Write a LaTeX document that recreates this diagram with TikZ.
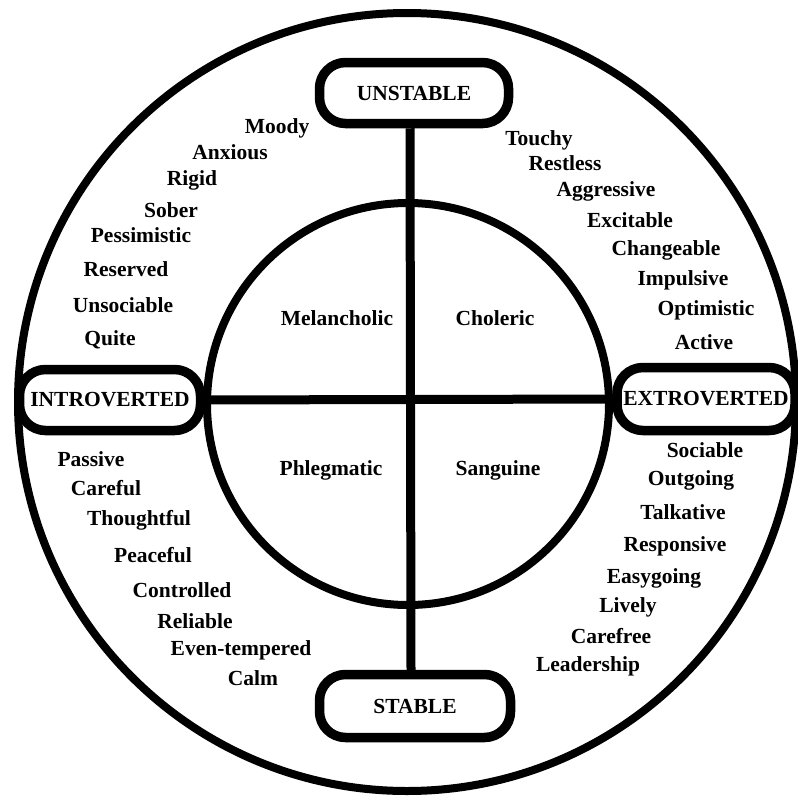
\documentclass[tikz,border=0pt]{standalone}
\usepackage{fontspec}
\setmainfont{Liberation Serif}
\begin{document}
\begin{tikzpicture}[x=1pt,y=-1pt,
  ring/.style={line width=8pt},
  axis/.style={line width=9pt},
  pole/.style={draw, fill=white, line width=9.5pt, rounded corners=26pt, font=\fontsize{21.5}{23}\selectfont\bfseries, inner sep=0pt},
  trait/.style={font=\fontsize{21.5}{23}\selectfont\bfseries, inner sep=0pt},
  temper/.style={font=\fontsize{21.5}{23}\selectfont\bfseries, inner sep=0pt}]
\useasboundingbox (0,0) rectangle (798,798);
\fill[white] (0,0) rectangle (798,798);
% circles
\draw[ring] (407,402) circle (389);
\draw[ring] (408,404) circle (201);
% pole boxes
\node[pole, minimum width=189pt, minimum height=61pt] (unstable) at (414,93) {UNSTABLE};
\node[pole, minimum width=191pt, minimum height=63pt] (stable) at (415,706) {STABLE};
\node[pole, minimum width=181pt, minimum height=61pt] (introverted) at (110,400) {INTROVERTED};
\node[pole, minimum width=178pt, minimum height=63pt] (extroverted) at (706,399) {EXTROVERTED};
% axes
\draw[axis] ([xshift=-4pt]unstable.south) -- ([xshift=-4pt]stable.north);
\draw[axis] (introverted.east) -- (extroverted.west);
% temperaments
\node[temper] (mel) at (337,318) {Melancholic};
\node[temper] (cho) at (495,318) {Choleric};
\node[temper] (phl) at (331,470) {Phlegmatic};
\node[temper] (san) at (498,470) {Sanguine};
% top-left traits
\node[trait] (t1) at (277,128) {Moody};
\node[trait] (t2) at (230,152) {Anxious};
\node[trait] (t3) at (192,180) {Rigid};
\node[trait] (t4) at (171,210) {Sober};
\node[trait] (t5) at (141,235) {Pessimistic};
\node[trait] (t6) at (126,269) {Reserved};
\node[trait] (t7) at (123,305) {Unsociable};
\node[trait] (t8) at (110,340) {Quite};
% top-right traits
\node[trait] (r1) at (539,140) {Touchy};
\node[trait] (r2) at (565,163) {Restless};
\node[trait] (r3) at (606,191) {Aggressive};
\node[trait] (r4) at (630,220) {Excitable};
\node[trait] (r5) at (666,250) {Changeable};
\node[trait] (r6) at (683,280) {Impulsive};
\node[trait] (r7) at (706,310) {Optimistic};
\node[trait] (r8) at (704,342) {Active};
% bottom-left traits
\node[trait] (b1) at (91,459) {Passive};
\node[trait] (b2) at (106,488) {Careful};
\node[trait] (b3) at (139,520) {Thoughtful};
\node[trait] (b4) at (153,555) {Peaceful};
\node[trait] (b5) at (182,590) {Controlled};
\node[trait] (b6) at (195,621) {Reliable};
\node[trait] (b7) at (241,650) {Even-tempered};
\node[trait] (b8) at (253,678) {Calm};
% bottom-right traits
\node[trait] (s1) at (705,450) {Sociable};
\node[trait] (s2) at (691,480) {Outgoing};
\node[trait] (s3) at (683,512) {Talkative};
\node[trait] (s4) at (675,546) {Responsive};
\node[trait] (s5) at (654,578) {Easygoing};
\node[trait] (s6) at (628,607) {Lively};
\node[trait] (s7) at (611,636) {Carefree};
\node[trait] (s8) at (588,666) {Leadership};
\end{tikzpicture}
\end{document}
